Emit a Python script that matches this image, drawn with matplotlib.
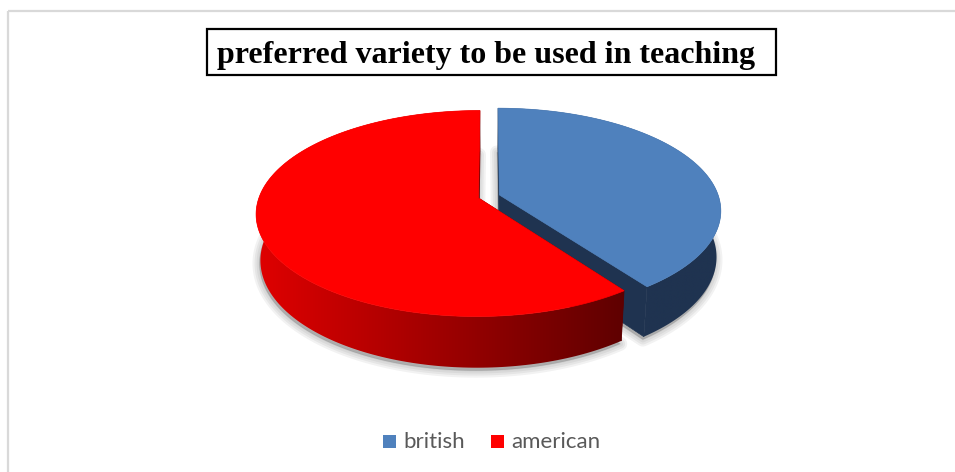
import numpy as np
import matplotlib.pyplot as plt
from matplotlib.colors import to_rgb
from matplotlib.patches import Polygon, Rectangle

# survey answers
labels = ['british', 'american']
shares = [40, 60]

top_colors = ['#4f81bd', '#ff0000']
side_light = ['#1f3350', '#e00000']
side_dark = ['#1f3350', '#5e0000']

W, H = 955, 472
fig = plt.figure(figsize=(W / 100, H / 100), dpi=100)
ax = fig.add_axes([0, 0, 1, 1])

# outer chart border (light grey, runs off the right and bottom)
ax.add_patch(Rectangle((8, 11), W + 20, H + 20, fill=False, ec='#d9d9d9', lw=1.6))

# title in a black box
ax.add_patch(Rectangle((207, 29), 569, 46, fill=False, ec='black', lw=1.6))
ax.text(486.5, 63, 'preferred variety to be used in teaching', ha='center', va='baseline',
        family='Liberation Serif', weight='bold', fontsize=23, color='black')

# simple perspective camera for the 3d pie
tilt = np.radians(27.2)
sn, cs = np.sin(tilt), np.cos(tilt)
D, f = 5.94, 1302.0
cx, cy = 489.0, 196.5
depth = 0.239
explode = 0.05


def proj(x, y, z):
    v = y * sn + z * cs
    w = D + y * cs - z * sn
    return cx + f * x / w, cy - f * v / w


total = sum(shares)
bounds = np.concatenate([[0], np.cumsum(shares)]) / total * 360.0

z = 2
# shadows first, so neither slice gets shaded by the other
geo = []
for i in range(len(shares)):
    a0, a1 = bounds[i], bounds[i + 1]
    mid = np.radians((a0 + a1) / 2)
    ox, oy = explode * np.sin(mid), explode * np.cos(mid)
    th = np.radians(np.linspace(a0, a1, 200))
    rx = ox + np.sin(th)
    ry = oy + np.cos(th)
    tx, ty = proj(rx, ry, 0 * rx)
    bx, by = proj(rx, ry, 0 * rx - depth)
    p0 = proj(ox, oy, 0)
    p1 = proj(ox, oy, -depth)
    geo.append((rx, ry, tx, ty, bx, by, p0, p1))

    base = np.column_stack([np.concatenate([[p1[0]], bx]) - 1,
                            np.concatenate([[p1[1]], by]) + 3])
    for lw in [10, 7, 4, 1]:
        ax.add_patch(Polygon(base, closed=True, fc='none', ec='black', lw=lw,
                             alpha=0.05, joinstyle='round', zorder=z))
    ax.add_patch(Polygon(base, closed=True, fc='black', ec='none', alpha=0.2, zorder=z))

# slices are drawn back to front: the blue one sits further back
for i in range(len(shares)):
    rx, ry, tx, ty, bx, by, p0, p1 = geo[i]
    z += 1

    # radial cut faces
    for k in (0, -1):
        q0 = proj(rx[k], ry[k], 0)
        q1 = proj(rx[k], ry[k], -depth)
        ax.add_patch(Polygon([p0, q0, q1, p1], closed=True,
                             fc=side_dark[i], ec=side_dark[i], lw=0.5, zorder=z))

    # outer wall with a left-to-right shading
    z += 1
    wall_xy = np.column_stack([np.concatenate([tx, bx[::-1]]),
                               np.concatenate([ty, by[::-1]])])
    wall = Polygon(wall_xy, closed=True, fc='none', ec='none', zorder=z)
    ax.add_patch(wall)
    xmin, xmax = tx.min(), tx.max()
    ymin, ymax = ty.min(), by.max()
    t = np.linspace(0, 1, 256)
    c0, c1 = np.array(to_rgb(side_light[i])), np.array(to_rgb(side_dark[i]))
    grad = (c0[None, :] + (c1 - c0)[None, :] * t[:, None])[None, :, :]
    im = ax.imshow(grad, extent=(xmin - 1, xmax + 1, ymax + 2, ymin - 2), aspect='auto',
                   interpolation='bilinear', zorder=z)
    im.set_clip_path(wall)

    # top face
    z += 1
    ax.add_patch(Polygon(np.column_stack([np.concatenate([[p0[0]], tx]),
                                          np.concatenate([[p0[1]], ty])]),
                         closed=True, fc=top_colors[i], ec=top_colors[i], lw=0.5, zorder=z))

# legend below the pie
legend_x = [383, 491]
for i, lab in enumerate(labels):
    ax.add_patch(Rectangle((legend_x[i], 435), 13, 13, fc=top_colors[i], ec='none'))
    ax.text(legend_x[i] + 20, 448, lab, ha='left', va='baseline', family='Lato',
            fontsize=16, color='#595959')

ax.set_xlim(0, W)
ax.set_ylim(H, 0)
ax.axis('off')

fig.savefig('out.png', dpi=100)
